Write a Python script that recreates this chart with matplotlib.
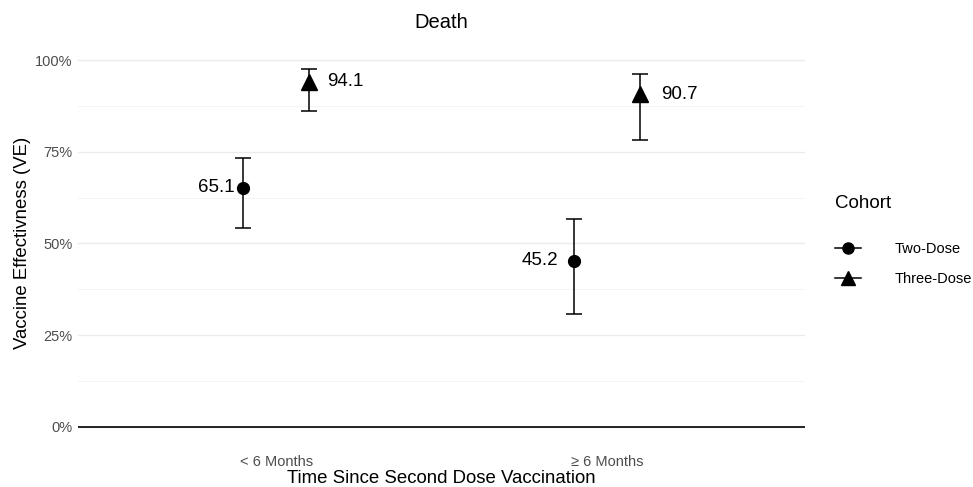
import numpy as np
import matplotlib
matplotlib.use("Agg")
import matplotlib.pyplot as plt
from matplotlib.lines import Line2D

plt.rcParams['font.family'] = ['Liberation Sans', 'DejaVu Sans']

categories = ["< 6 Months", "\u2265 6 Months"]
cohorts = ["Two-Dose", "Three-Dose"]
ve = {"Two-Dose": [65.1, 45.2], "Three-Dose": [94.1, 90.7]}
lower = {"Two-Dose": [54.3, 30.7], "Three-Dose": [86.0, 78.1]}
upper = {"Two-Dose": [73.4, 56.7], "Three-Dose": [97.5, 96.2]}

markers = {"Two-Dose": "o", "Three-Dose": "^"}
msize = {"Two-Dose": 8.5, "Three-Dose": 11.5}
dodge = {"Two-Dose": -0.1, "Three-Dose": 0.1}
# label offsets in points, per cohort and category
label_dx = {"Two-Dose": [-6, -11], "Three-Dose": [12.5, 15]}

fig = plt.figure(figsize=(9.73, 4.87), dpi=100)
ax = fig.add_axes([0.0802, 0.0862, 0.7472, 0.8282])

x = np.arange(1, len(categories) + 1)
for c in cohorts:
    xs = x + dodge[c]
    v = np.array(ve[c]) / 100
    lo = v - np.array(lower[c]) / 100
    hi = np.array(upper[c]) / 100 - v
    ax.errorbar(xs, v, yerr=[lo, hi], fmt='none', ecolor='black',
                elinewidth=1.1, capsize=5.8, capthick=1.1, zorder=3)
    ax.plot(xs, v, linestyle='none', marker=markers[c], color='black',
            markersize=msize[c], zorder=4)
    for xi, vi, val, dx in zip(xs, v, ve[c], label_dx[c]):
        ax.annotate(f"{val:.1f}", (xi, vi), xytext=(dx, 0), textcoords='offset points',
                    ha='right' if dx < 0 else 'left', va='center',
                    fontsize=13.5, color='black')

ax.axhline(0, color='black', linewidth=1.2, zorder=2)

ax.set_xlim(0.4, 2.6)
ax.set_ylim(-0.05, 1.05)
ax.set_xticks(x)
ax.set_xticklabels(categories)
ax.set_yticks([0, 0.25, 0.5, 0.75, 1.0])
ax.set_yticklabels(["0%", "25%", "50%", "75%", "100%"])
ax.set_yticks([0.125, 0.375, 0.625, 0.875], minor=True)
ax.grid(axis='y', which='major', color='#EBEBEB', linewidth=1.0)
ax.grid(axis='y', which='minor', color='#F2F2F2', linewidth=0.6)
ax.set_axisbelow(True)
ax.tick_params(axis='both', which='both', length=0, colors='#4D4D4D', labelsize=10.5)
ax.tick_params(axis='x', pad=7)
ax.tick_params(axis='y', pad=4)
for s in ax.spines.values():
    s.set_visible(False)

ax.set_xlabel("Time Since Second Dose Vaccination", fontsize=13.4, labelpad=1)
ax.set_ylabel("Vaccine Effectivness (VE)", fontsize=13.4, labelpad=3)
ax.set_title("Death", fontsize=14.5, pad=10)

handles = [Line2D([0], [0], color='black', marker=markers[c], linewidth=1.1,
                  markersize=8 if c == "Two-Dose" else 10) for c in cohorts]
leg = fig.legend(handles, cohorts, title="Cohort", loc='upper left',
                 bbox_to_anchor=(0.858, 0.6), frameon=False, fontsize=10.5,
                 title_fontsize=13.5, handlelength=1.8, labelspacing=1.05,
                 handletextpad=2.3, borderaxespad=0, borderpad=0)
leg._legend_box.align = "left"
leg._legend_box.sep = 22

fig.savefig("out.png", dpi=100)
